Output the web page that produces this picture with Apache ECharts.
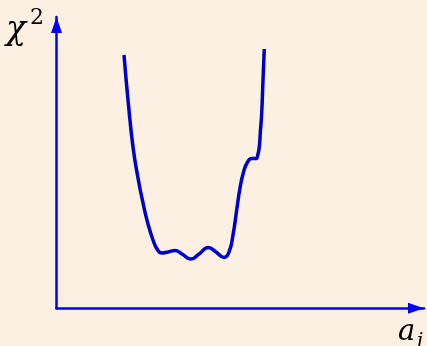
<!DOCTYPE html>
<html>
<head>
<meta charset="utf-8">
<script src="https://cdn.jsdelivr.net/npm/echarts@6/dist/echarts.min.js"></script>
<style>
html,body{margin:0;padding:0;background:#fbf0e1;}
#c{width:427px;height:346px;}
</style>
</head>
<body>
<div id="c"></div>
<script>
// parameter a_i (arbitrary units) and chi^2 (arbitrary units)
const aValues = [18.37, 19.46, 20.82, 22.18, 23.54, 24.90, 26.26, 27.35, 28.63, 30.34, 32.24, 34.15, 36.52, 38.78, 41.31, 43.40, 45.58, 46.94, 48.03, 49.03, 49.93, 50.83, 51.84, 53.12, 54.29, 54.83, 55.18, 55.51, 55.84, 56.19, 56.54];
const chi2Values = [86.96, 71.51, 55.37, 44.73, 36.15, 28.94, 23.45, 20.36, 18.98, 19.33, 19.84, 18.64, 16.92, 18.64, 20.87, 19.33, 17.44, 19.33, 25.16, 33.75, 41.30, 46.45, 49.88, 51.42, 51.42, 52.97, 55.37, 61.21, 67.05, 78.38, 89.01];
const xLabel = 'a';
const xLabelSub = 'i';
const yLabel = 'χ';
const yLabelSup = '2';

const chart = echarts.init(document.getElementById('c'), null, {renderer: 'canvas'});
const axisCommon = {
  type: 'value', min: 0, max: 100,
  axisTick: {show: false}, axisLabel: {show: false}, splitLine: {show: false},
  axisLine: {show: true, onZero: false, symbol: ['none', 'triangle'], symbolSize: [11, 16], symbolOffset: [0, -8],
    lineStyle: {color: '#0000ff', width: 2.5}}
};
const serif = 'DejaVu Serif';
chart.setOption({
  backgroundColor: '#fbf0e1',
  animation: false,
  grid: {left: 56.5, right: 3, top: 17, bottom: 37.7},
  xAxis: axisCommon,
  yAxis: axisCommon,
  graphic: [
    {type: 'text', left: 6, top: 14, style: {text: yLabel, fontFamily: serif, fontStyle: 'italic', fontSize: 33, fill: '#000'}},
    {type: 'text', left: 30, top: 7, style: {text: yLabelSup, fontFamily: serif, fontSize: 22, fill: '#000'}},
    {type: 'text', left: 398, top: 318, style: {text: xLabel, fontFamily: serif, fontStyle: 'italic', fontSize: 29, fill: '#000'}},
    {type: 'text', left: 417, top: 332, style: {text: xLabelSub, fontFamily: serif, fontStyle: 'italic', fontSize: 20, fill: '#000'}}
  ],
  series: [{
    type: 'line',
    data: aValues.map((a, i) => [a, chi2Values[i]]),
    smooth: 0.5,
    showSymbol: false,
    lineStyle: {color: '#0000cc', width: 3.5}
  }]
});
</script>
</body>
</html>
